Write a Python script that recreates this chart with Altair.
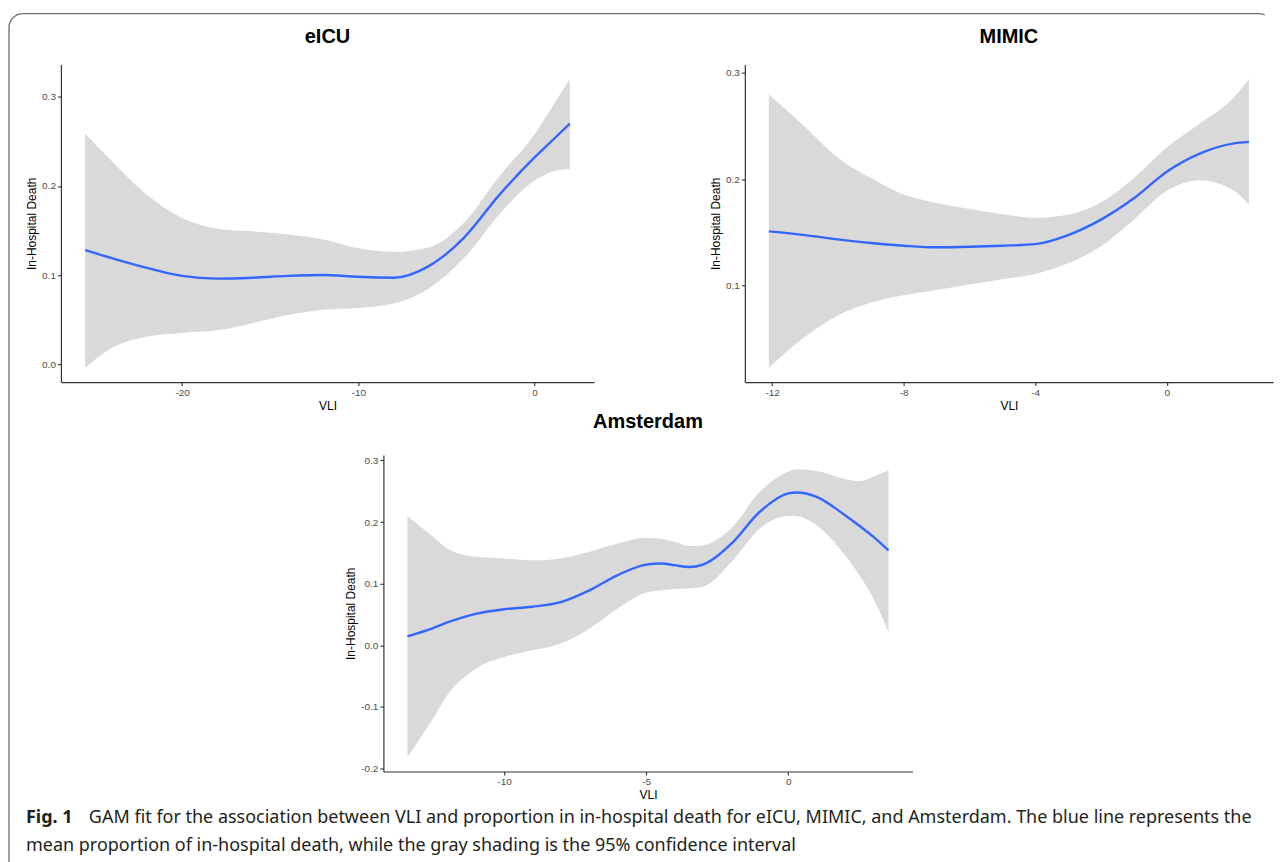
import altair as alt
import pandas as pd

# ---------------- data ----------------
eicu_x = [-25.5, -24, -22, -20, -18, -16, -14, -12, -10, -8, -6, -4, -2, 0, 1, 2]
eicu_fit = [0.128, 0.119, 0.108, 0.099, 0.096, 0.097, 0.099, 0.100, 0.098, 0.097, 0.110, 0.142, 0.190, 0.232, 0.251, 0.270]
eicu_hi = [0.259, 0.228, 0.190, 0.164, 0.152, 0.149, 0.1455, 0.140, 0.130, 0.126, 0.131, 0.159, 0.211, 0.258, 0.289, 0.320]
eicu_lo = [-0.004, 0.018, 0.031, 0.035, 0.038, 0.046, 0.055, 0.061, 0.063, 0.068, 0.085, 0.119, 0.168, 0.206, 0.216, 0.219]

mimic_x = [-12.1, -11, -10, -9, -8, -7, -6, -5, -4, -3, -2, -1, 0, 1, 2, 2.5]
mimic_fit = [0.151, 0.1475, 0.1435, 0.140, 0.1375, 0.136, 0.1365, 0.1375, 0.139, 0.1475, 0.162, 0.182, 0.207, 0.224, 0.2334, 0.235]
mimic_hi = [0.2795, 0.249, 0.220, 0.201, 0.1855, 0.1776, 0.172, 0.167, 0.1637, 0.1666, 0.178, 0.201, 0.2297, 0.252, 0.2754, 0.294]
mimic_lo = [0.023, 0.052, 0.072, 0.084, 0.091, 0.096, 0.101, 0.106, 0.111, 0.121, 0.137, 0.162, 0.189, 0.199, 0.190, 0.176]

ams_x = [-13.4, -12.5, -12, -11, -10, -9, -8, -7, -6, -5, -4.5, -4, -3.5, -3, -2, -1, 0, 0.3, 1, 2, 2.5, 3, 3.53]
ams_fit = [0.0146, 0.028, 0.037, 0.051, 0.0585, 0.0625, 0.070, 0.089, 0.114, 0.131, 0.1327, 0.130, 0.127, 0.131, 0.165, 0.2167, 0.2465, 0.248, 0.241, 0.211, 0.194, 0.176, 0.154]
ams_hi = [0.210, 0.176, 0.157, 0.1435, 0.141, 0.138, 0.141, 0.1517, 0.165, 0.1744, 0.173, 0.168, 0.161, 0.1625, 0.190, 0.249, 0.2817, 0.2855, 0.283, 0.270, 0.2665, 0.2736, 0.284]
ams_lo = [-0.1815, -0.119, -0.081, -0.038, -0.019, -0.008, 0.003, 0.027, 0.0596, 0.0856, 0.089, 0.091, 0.092, 0.0948, 0.135, 0.1896, 0.210, 0.2096, 0.195, 0.146, 0.114, 0.0758, 0.0217]

eicu_xticks = [-20, -10, 0]
eicu_yticks = [0.0, 0.1, 0.2, 0.3]
mimic_xticks = [-12, -8, -4, 0]
mimic_yticks = [0.1, 0.2, 0.3]
ams_xticks = [-10, -5, 0]
ams_yticks = [-0.2, -0.1, 0.0, 0.1, 0.2, 0.3]

caption_bold = ["Fig. 1"]
caption_line1 = ["GAM fit for the association between VLI and proportion in in-hospital death for eICU, MIMIC, and Amsterdam. The blue line represents the"]
caption_line2 = ["mean proportion of in-hospital death, while the gray shading is the 95% confidence interval"]

# ---------------- styling ----------------
FONT = "Liberation Sans"
CAP_FONT = "Noto Sans"
BAND_COLOR = "#D9D9D9"
LINE_COLOR = "#3366FF"
MINUS_FIX = "replace(datum.label, '\u2212', '-')"


def expand(lo, hi, f=0.05):
    r = hi - lo
    return [lo - f * r, hi + f * r]


def panel(name, xs, fit, lo, hi, xticks, yticks, width, height, title_offset,
          x_shift=0, plot_w=None):
    """x_shift moves the plotting area to the right inside its grid cell."""
    plot_w = plot_w or width
    df = pd.DataFrame({"VLI": xs, "fit": fit, "lo": lo, "hi": hi})
    sx = dict(domain=expand(min(xs), max(xs)), nice=False, zero=False)
    if x_shift:
        sx["range"] = [x_shift, x_shift + plot_w]
    xscale = alt.Scale(**sx)
    yscale = alt.Scale(domain=expand(min(lo), max(hi)), nice=False, zero=False)
    xaxis = alt.Axis(values=xticks, format="d", labelExpr=MINUS_FIX, title="VLI")
    yax = dict(values=yticks, format=".1f", labelExpr=MINUS_FIX, title="In-Hospital Death")
    if x_shift:
        yax["offset"] = -x_shift
    yaxis = alt.Axis(**yax)
    base = alt.Chart(df)
    band = base.mark_area(color=BAND_COLOR, opacity=1, interpolate="monotone").encode(
        x=alt.X("VLI:Q", scale=xscale, axis=xaxis),
        y=alt.Y("lo:Q", scale=yscale, axis=yaxis),
        y2="hi:Q",
    )
    line = base.mark_line(color=LINE_COLOR, strokeWidth=2.4, interpolate="monotone").encode(
        x=alt.X("VLI:Q", scale=xscale, axis=xaxis),
        y=alt.Y("fit:Q", scale=yscale, axis=yaxis),
    )
    tdx = x_shift + plot_w / 2 - width / 2
    return alt.layer(band, line).properties(
        width=width,
        height=height,
        title=alt.TitleParams(name, font=FONT, fontSize=20, fontWeight="bold",
                              color="black", offset=title_offset, anchor="middle", dx=tdx),
    )


eicu = panel("eICU", eicu_x, eicu_fit, eicu_lo, eicu_hi, eicu_xticks, eicu_yticks, 534, 318, 18)
mimic = panel("MIMIC", mimic_x, mimic_fit, mimic_lo, mimic_hi, mimic_xticks, mimic_yticks, 529, 318, 18)
ams = panel("Amsterdam", ams_x, ams_fit, ams_lo, ams_hi, ams_xticks, ams_yticks, 534, 317, 23,
            x_shift=323, plot_w=530)

filler = alt.Chart(pd.DataFrame({"v": [0]})).mark_point(opacity=0).encode(
    x=alt.value(0), y=alt.value(0)
).properties(width=10, height=10)

# caption placed below the grid; its origin is at the left edge of the eICU plot
txt_style = dict(align="left", baseline="alphabetic", font=CAP_FONT, fontSize=18, color="#231F20")
cap_bold = alt.Chart(pd.DataFrame({"t": caption_bold})).mark_text(fontWeight="bold", **txt_style).encode(
    x=alt.value(-35), y=alt.value(-21), text="t:N")
cap_1 = alt.Chart(pd.DataFrame({"t": caption_line1})).mark_text(**txt_style).encode(
    x=alt.value(28), y=alt.value(-21), text="t:N")
cap_2 = alt.Chart(pd.DataFrame({"t": caption_line2})).mark_text(**txt_style).encode(
    x=alt.value(-35), y=alt.value(7), text="t:N")

# figure frame: 1266 x 872 rounded box; dash pattern hides its right side (cut off in the original)
FRAME_W, FRAME_H, FRAME_R = 1266, 872, 14
top_len = FRAME_W - 2 * FRAME_R
side_len = FRAME_H - 2 * FRAME_R
arc_len = 3.1416 * FRAME_R / 2
frame = alt.Chart(pd.DataFrame({"v": [0]})).mark_rect(
    fillOpacity=0, stroke="#6E6E6E", strokeWidth=1.3, cornerRadius=FRAME_R,
    strokeDash=[top_len + 6, 2 * arc_len + side_len - 6, 4000, 10],
).encode(x=alt.value(-52), x2=alt.value(-52 + FRAME_W), y=alt.value(-832), y2=alt.value(-832 + FRAME_H))

caption = alt.layer(frame, cap_bold, cap_1, cap_2).properties(width=100, height=1)

chart = alt.concat(
    eicu, mimic, ams, filler, caption,
    columns=2,
    spacing={"column": 151, "row": 73},
    bounds="flush",
).properties(
    padding={"left": 0, "top": 4, "right": 0, "bottom": 0}
).configure_view(strokeWidth=0).configure_axis(
    grid=False,
    domainColor="#333333",
    domainWidth=1.2,
    tickColor="#333333",
    tickWidth=1.1,
    tickSize=3.5,
    labelColor="#4D4D4D",
    labelFont=FONT,
    labelFontSize=10,
    labelPadding=2,
    titleFont=FONT,
    titleFontSize=12,
    titleFontWeight="normal",
    titleColor="black",
    titlePadding=3,
)

chart.save("out.html", embed_options={"renderer": "svg", "actions": False})
